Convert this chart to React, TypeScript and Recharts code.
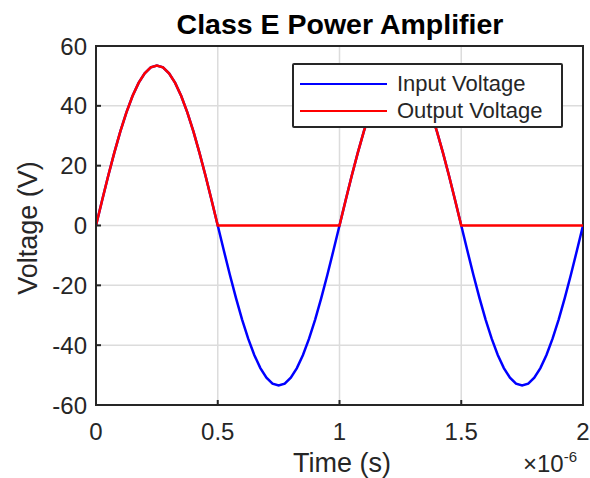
import React from 'react';
import { LineChart, Line, XAxis, YAxis, CartesianGrid, ReferenceArea } from 'recharts';

const timeUs: number[] = [
  0, 0.025, 0.05, 0.075, 0.1, 0.125, 0.15, 0.175, 0.2, 0.225,
  0.25, 0.275, 0.3, 0.325, 0.35, 0.375, 0.4, 0.425, 0.45, 0.475,
  0.5, 0.525, 0.55, 0.575, 0.6, 0.625, 0.65, 0.675, 0.7, 0.725,
  0.75, 0.775, 0.8, 0.825, 0.85, 0.875, 0.9, 0.925, 0.95, 0.975,
  1, 1.025, 1.05, 1.075, 1.1, 1.125, 1.15, 1.175, 1.2, 1.225,
  1.25, 1.275, 1.3, 1.325, 1.35, 1.375, 1.4, 1.425, 1.45, 1.475,
  1.5, 1.525, 1.55, 1.575, 1.6, 1.625, 1.65, 1.675, 1.7, 1.725,
  1.75, 1.775, 1.8, 1.825, 1.85, 1.875, 1.9, 1.925, 1.95, 1.975,
  2,
];

const inputVoltage: number[] = [
  0, 8.37, 16.53, 24.29, 31.45, 37.83, 43.28, 47.67, 50.88, 52.84,
  53.5, 52.84, 50.88, 47.67, 43.28, 37.83, 31.45, 24.29, 16.53, 8.37,
  0, -8.37, -16.53, -24.29, -31.45, -37.83, -43.28, -47.67, -50.88, -52.84,
  -53.5, -52.84, -50.88, -47.67, -43.28, -37.83, -31.45, -24.29, -16.53, -8.37,
  0, 8.37, 16.53, 24.29, 31.45, 37.83, 43.28, 47.67, 50.88, 52.84,
  53.5, 52.84, 50.88, 47.67, 43.28, 37.83, 31.45, 24.29, 16.53, 8.37,
  0, -8.37, -16.53, -24.29, -31.45, -37.83, -43.28, -47.67, -50.88, -52.84,
  -53.5, -52.84, -50.88, -47.67, -43.28, -37.83, -31.45, -24.29, -16.53, -8.37,
  0,
];

const outputVoltage: number[] = [
  0, 8.37, 16.53, 24.29, 31.45, 37.83, 43.28, 47.67, 50.88, 52.84,
  53.5, 52.84, 50.88, 47.67, 43.28, 37.83, 31.45, 24.29, 16.53, 8.37,
  0, 0, 0, 0, 0, 0, 0, 0, 0, 0,
  0, 0, 0, 0, 0, 0, 0, 0, 0, 0,
  0, 8.37, 16.53, 24.29, 31.45, 37.83, 43.28, 47.67, 50.88, 52.84,
  53.5, 52.84, 50.88, 47.67, 43.28, 37.83, 31.45, 24.29, 16.53, 8.37,
  0, 0, 0, 0, 0, 0, 0, 0, 0, 0,
  0, 0, 0, 0, 0, 0, 0, 0, 0, 0,
  0,
];

const xTicks: number[] = [0, 0.5, 1, 1.5, 2];
const xTickLabels: string[] = ['0', '0.5', '1', '1.5', '2'];
const yTicks: number[] = [-60, -40, -20, 0, 20, 40, 60];

const seriesNames = ['Input Voltage', 'Output Voltage'];
const seriesColors = ['#0000FF', '#FF0000'];

const data = timeUs.map((t, i) => ({ t, input: inputVoltage[i], output: outputVoltage[i] }));

const FONT = 'Liberation Sans, Arial, Helvetica, sans-serif';
const TXT = '#262626';

const LegendBox = () => (
  <div
    style={{
      position: 'absolute',
      left: 292,
      top: 63,
      width: 271,
      height: 65,
      border: '2px solid #262626',
      borderRadius: 2,
      background: '#fff',
      boxSizing: 'border-box',
      fontFamily: FONT,
      fontSize: 22,
      color: TXT,
      paddingTop: 5,
    }}
  >
    {seriesNames.map((n, i) => (
      <div key={n} style={{ display: 'flex', alignItems: 'center', height: 27, whiteSpace: 'nowrap' }}>
        <div style={{ width: 87, height: 0, borderTop: `2.5px solid ${seriesColors[i]}`, marginLeft: 6, marginRight: 10 }} />
        <span>{n}</span>
      </div>
    ))}
  </div>
);

export default function App() {
  return (
    <div style={{ position: 'absolute', left: 0, top: 0, width: 590, height: 478, background: '#fff', fontFamily: FONT }}>
      <LineChart width={590} height={478} data={data} margin={{ top: 46, right: 7, bottom: 0, left: 0 }}>
        <CartesianGrid stroke="#dcdcdc" strokeWidth={1.5} horizontalValues={yTicks} verticalValues={xTicks} />
        <XAxis
          dataKey="t"
          type="number"
          domain={[0, 2]}
          ticks={xTicks}
          tickFormatter={(v: number) => xTickLabels[xTicks.indexOf(v)] ?? String(v)}
          height={73}
          tick={{ fill: TXT, fontSize: 24, fontFamily: FONT }}
          tickLine={{ stroke: '#262626', strokeWidth: 2 }}
          tickSize={-5}
          tickMargin={23}
          axisLine={{ stroke: '#262626', strokeWidth: 2 }}
          allowDataOverflow
        />
        <YAxis
          type="number"
          domain={[-60, 60]}
          ticks={yTicks}
          width={96}
          tick={{ fill: TXT, fontSize: 24, fontFamily: FONT }}
          tickLine={{ stroke: '#262626', strokeWidth: 2 }}
          tickSize={-5}
          tickMargin={14}
          axisLine={{ stroke: '#262626', strokeWidth: 2 }}
          allowDataOverflow
        />
        <ReferenceArea x1={0} x2={2} y1={-60} y2={60} fill="none" stroke="#262626" strokeWidth={2} ifOverflow="extendDomain" />
        <Line dataKey="input" stroke={seriesColors[0]} strokeWidth={2.5} dot={false} isAnimationActive={false} type="linear" />
        <Line dataKey="output" stroke={seriesColors[1]} strokeWidth={2.5} dot={false} isAnimationActive={false} type="linear" />
        <text x={340} y={34} textAnchor="middle" fontFamily={FONT} fontWeight="bold" fontSize={28.5} fill="#000">
          Class E Power Amplifier
        </text>
        <text x={342} y={472} textAnchor="middle" fontFamily={FONT} fontSize={27} fill={TXT}>
          Time (s)
        </text>
        <text x={523} y={472} fontFamily={FONT} fontSize={24} fill={TXT}>
          ×10
          <tspan dy={-10} fontSize={15}>-6</tspan>
        </text>
        <text
          x={37}
          y={228}
          textAnchor="middle"
          fontFamily={FONT}
          fontSize={27}
          fill={TXT}
          transform="rotate(-90 37 228)"
        >
          Voltage (V)
        </text>
      </LineChart>
      <LegendBox />
    </div>
  );
}
